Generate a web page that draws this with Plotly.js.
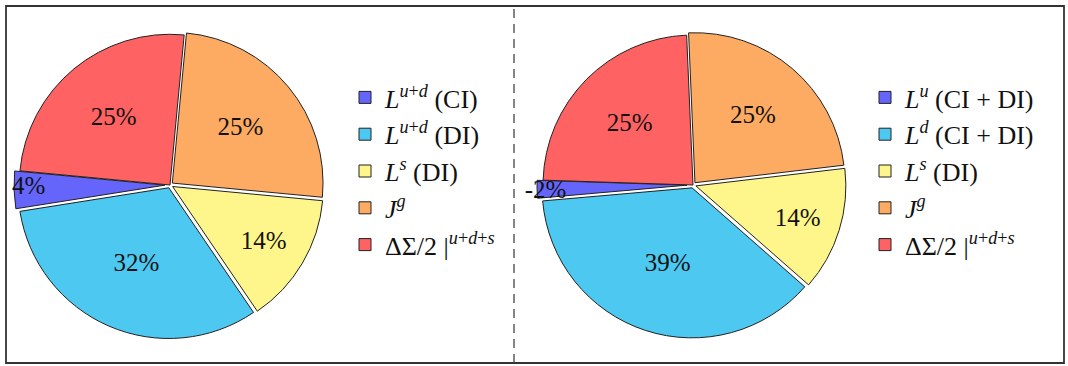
<!DOCTYPE html>
<html>
<head>
<meta charset="utf-8">
<script src="https://cdn.plot.ly/plotly-3.0.1.min.js"></script>
<style>
  html, body { margin: 0; padding: 0; background: #fff; }
  #chart { width: 1068px; height: 366px; }
</style>
</head>
<body>
<div id="chart"></div>
<script>
// Slice labels (legend entries) for the two decompositions
const leftLabels = [
  '<i>L</i><sup><i>u</i>+<i>d</i></sup> (CI)',
  '<i>L</i><sup><i>u</i>+<i>d</i></sup> (DI)',
  '<i>L</i><sup><i>s</i></sup> (DI)',
  '<i>J</i><sup><i>g</i></sup>',
  'ΔΣ/2 |<sup><i>u</i>+<i>d</i>+<i>s</i></sup>'
];
const rightLabels = [
  '<i>L</i><sup><i>u</i></sup> (CI + DI)',
  '<i>L</i><sup><i>d</i></sup> (CI + DI)',
  '<i>L</i><sup><i>s</i></sup> (DI) ',
  '<i>J</i><sup><i>g</i></sup> ',
  'ΔΣ/2 |<sup><i>u</i>+<i>d</i>+<i>s</i></sup> '
];

// Percentage contributions to the proton spin
const leftValues = [4, 32, 14, 25, 25];
const rightValues = [-2, 39, 14, 25, 25];

const sliceColors = ['#6565fc', '#4cc8f1', '#fff68b', '#fdab62', '#ff6262'];

const FONT = 'Liberation Serif, Times New Roman, serif';

function pieTrace(labels, values, domainX, legendId, rotation, pulls) {
  return {
    type: 'pie',
    labels: labels,
    values: values.map(v => Math.abs(v)),
    text: values.map(v => v + '%'),
    textinfo: 'text',
    textposition: 'inside',
    insidetextorientation: 'horizontal',
    textfont: { family: FONT, size: 25, color: '#111' },
    sort: false,
    direction: 'counterclockwise',
    rotation: rotation,
    pull: pulls,
    marker: { colors: sliceColors, line: { color: '#222', width: 1 } },
    domain: { x: domainX, y: [1 - 341 / 366, 1 - 29 / 366] },
    legend: legendId,
    hoverinfo: 'label+text'
  };
}

const traces = [
  pieTrace(leftLabels, leftValues, [14 / 1068, 326 / 1068], 'legend', -99, [0.035, 0.02, 0.02, 0.02, 0.0]),
  pieTrace(rightLabels, rightValues, [537 / 1068, 849 / 1068], 'legend2', -95, [0.04, 0.02, 0.02, 0.02, 0.0])
];

const legendStyle = {
  font: { family: FONT, size: 26, color: '#111' },
  bgcolor: 'rgba(0,0,0,0)',
  xanchor: 'left',
  yanchor: 'top',
  tracegroupgap: 0,
  itemwidth: 30
};

const layout = {
  width: 1068,
  height: 366,
  margin: { l: 0, r: 0, t: 0, b: 0 },
  paper_bgcolor: '#fff',
  showlegend: true,
  uniformtext: { minsize: 25, mode: 'show' },
  legend: Object.assign({}, legendStyle, { x: 345 / 1068, y: 1 - 74 / 366 }),
  legend2: Object.assign({}, legendStyle, { x: 865 / 1068, y: 1 - 74 / 366 }),
  shapes: [
    { type: 'rect', xref: 'paper', yref: 'paper', x0: 6 / 1068, x1: 1064 / 1068, y0: 3 / 366, y1: 360 / 366,
      line: { color: '#333', width: 1.8 }, fillcolor: 'rgba(0,0,0,0)' },
    { type: 'line', xref: 'paper', yref: 'paper', x0: 514 / 1068, x1: 514 / 1068, y0: 3 / 366, y1: 360 / 366,
      line: { color: '#444', width: 1.3, dash: '9px,6px' } }
  ]
};

Plotly.newPlot('chart', traces, layout, { staticPlot: true });
</script>
</body>
</html>
